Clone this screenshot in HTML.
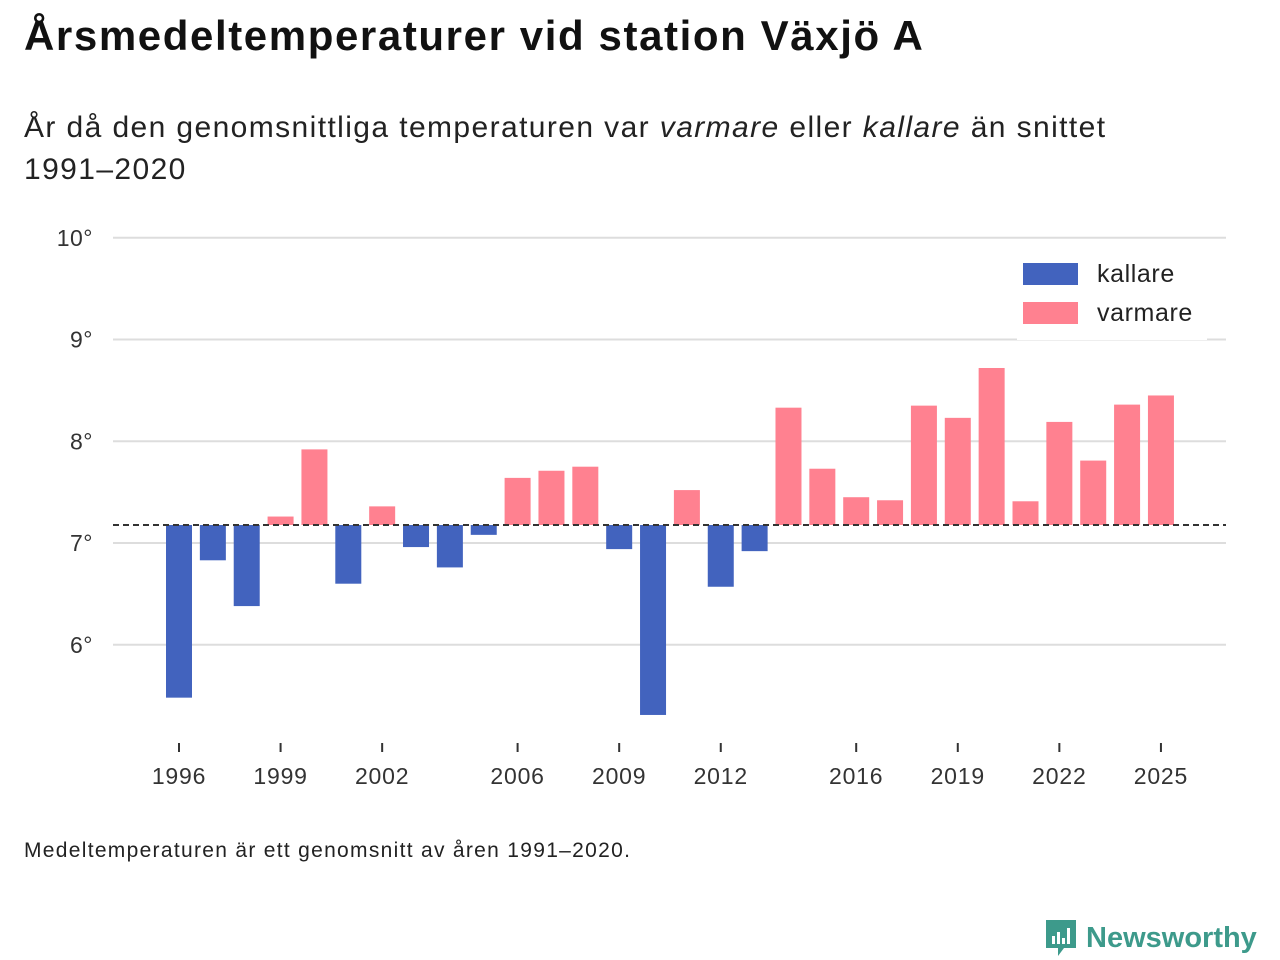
<!DOCTYPE html>
<html><head><meta charset="utf-8"><style>
body{margin:0;width:1280px;height:960px;background:#fff;font-family:"Liberation Sans",sans-serif;overflow:hidden;position:relative}
h1{position:absolute;left:24px;top:12px;margin:0;font-size:42px;letter-spacing:1.6px;font-weight:bold;color:#111}
.sub{position:absolute;left:24px;top:107px;font-size:30px;letter-spacing:1.4px;color:#222;line-height:42px;width:1160px}
.foot{position:absolute;left:24px;top:839px;font-size:21px;letter-spacing:1.3px;color:#222}
.logo{position:absolute;left:1044px;top:918px;display:flex;align-items:center;gap:8px;color:#3d9a8b;font-weight:bold;font-size:29px}
</style></head><body>
<h1>Årsmedeltemperaturer vid station Växjö A</h1>
<div class="sub">År då den genomsnittliga temperaturen var <i>varmare</i> eller <i>kallare</i> än snittet 1991–2020</div>
<svg id="chart" width="1280" height="960" style="position:absolute;left:0;top:0" font-family="Liberation Sans, sans-serif"></svg>
<div class="foot">Medeltemperaturen är ett genomsnitt av åren 1991–2020.</div>
<div class="logo"><svg width="34" height="40" viewBox="0 0 34 40"><path d="M2 2h30v28H20l-6 8v-8H2z" fill="#3d9a8b"/><rect x="8" y="18" width="3" height="8" fill="#fff"/><rect x="13" y="14" width="3" height="12" fill="#fff"/><rect x="18" y="20" width="3" height="6" fill="#fff"/><rect x="23" y="10" width="3" height="16" fill="#fff"/></svg><span>Newsworthy</span></div>
<script>
const years=[1996,1997,1998,1999,2000,2001,2002,2003,2004,2005,2006,2007,2008,2009,2010,2011,2012,2013,2014,2015,2016,2017,2018,2019,2020,2021,2022,2023,2024,2025];
const temps=[5.48,6.83,6.38,7.26,7.92,6.60,7.36,6.96,6.76,7.08,7.64,7.71,7.75,6.94,5.31,7.52,6.57,6.92,8.33,7.73,7.45,7.42,8.35,8.23,8.72,7.41,8.19,7.81,8.36,8.45];
const baseline=7.177;
const yTicks=[6,7,8,9,10];
const xTicks=[1996,1999,2002,2006,2009,2012,2016,2019,2022,2025];
const svg=document.getElementById('chart');
const NS='http://www.w3.org/2000/svg';
const y=v=>543-(v-7)*101.75;
const x=yr=>179+(yr-1996)*33.86;
function mk(t,a){const e=document.createElementNS(NS,t);for(const k in a)e.setAttribute(k,a[k]);svg.appendChild(e);return e;}
yTicks.forEach(v=>{
 const l=mk('line',{x1:113,x2:1226,y1:y(v),y2:y(v),stroke:'#ddd','stroke-width':2});
 
 
 const t=mk('text',{x:93,y:y(v)+8,'text-anchor':'end','font-size':23,'letter-spacing':'0.5',fill:'#333'});t.textContent=v+'°';
 
 
});
years.forEach((yr,i)=>{
 const v=temps[i];const top=Math.min(y(v),y(baseline)),h=Math.abs(y(v)-y(baseline));
 const r=mk('rect',{x:x(yr)-13,y:top,width:26,height:h,fill:v<baseline?'#4263be':'#ff8190'});
 
 
});
const bl=mk('line',{x1:113,x2:1226,y1:y(baseline),y2:y(baseline),stroke:'#333','stroke-width':2,'stroke-dasharray':'6,4'});


xTicks.forEach(yr=>{
 const l=mk('line',{x1:x(yr),x2:x(yr),y1:743,y2:752,stroke:'#333','stroke-width':2});
 
 
 const t=mk('text',{x:x(yr),y:784,'text-anchor':'middle','font-size':23,'letter-spacing':'0.8',fill:'#333'});t.textContent=yr;
 
 
});
const lb=mk('rect',{x:1017,y:255,width:190,height:85,fill:'#fff'});


[['kallare','#4263be',274],['varmare','#ff8190',313]].forEach(([n,c,cy])=>{
 const r=mk('rect',{x:1023,y:cy-11,width:55,height:22,fill:c});
 
 
 const t=mk('text',{x:1097,y:cy+8,'font-size':25,'letter-spacing':'0.6',fill:'#222'});t.textContent=n;
 
 
});
</script>
</body></html>
